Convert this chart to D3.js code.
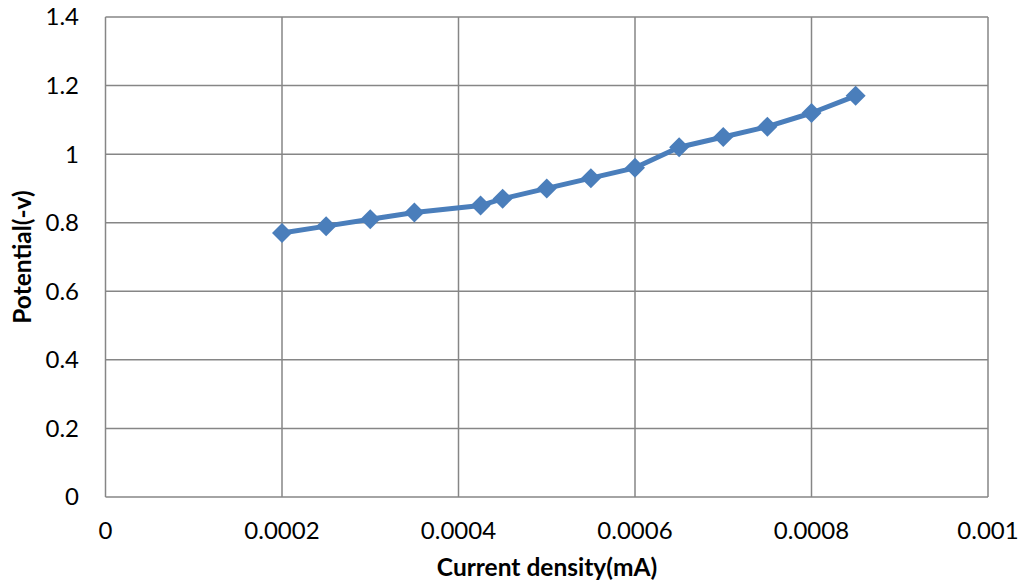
<!DOCTYPE html>
<html><head><meta charset="utf-8">
<script src="https://cdn.jsdelivr.net/npm/d3@7"></script>
<style>body{margin:0;background:#fff}svg{display:block}text{font-family:Lato, "Open Sans", sans-serif;fill:#000}</style>
</head><body>
<svg id="c" width="1023" height="586"></svg>
<script>
const currentDensity = [0.0002,0.00025,0.0003,0.00035,0.000425,0.00045,0.0005,0.00055,0.0006,0.00065,0.0007,0.00075,0.0008,0.00085];
const potential = [0.77,0.79,0.81,0.83,0.85,0.87,0.90,0.93,0.96,1.02,1.05,1.08,1.12,1.17];
const xTicks = [0,0.0002,0.0004,0.0006,0.0008,0.001];
const xTickLabels = ["0","0.0002","0.0004","0.0006","0.0008","0.001"];
const yTicks = [0,0.2,0.4,0.6,0.8,1,1.2,1.4];
const yTickLabels = ["0","0.2","0.4","0.6","0.8","1","1.2","1.4"];

const svg = d3.select("#c");
const L=105.5, R=988, T=17, B=497;
const x = d3.scaleLinear().domain([0,0.001]).range([L,R]);
const y = d3.scaleLinear().domain([0,1.4]).range([B,T]);
const grid="#868686";
svg.append("g").selectAll("line").data(yTicks).join("line")
  .attr("x1",L).attr("x2",R).attr("y1",d=>y(d)).attr("y2",d=>y(d))
  .attr("stroke",grid).attr("stroke-width",1.5);
svg.append("g").selectAll("line").data(xTicks).join("line")
  .attr("y1",T).attr("y2",B).attr("x1",d=>x(d)).attr("x2",d=>x(d))
  .attr("stroke",grid).attr("stroke-width",1.5);
svg.append("g").selectAll("text").data(yTicks).join("text")
  .attr("x",79).attr("y",d=>y(d)).attr("dy","0.35em").attr("text-anchor","end")
  .attr("font-size",24).text((d,i)=>yTickLabels[i]);
svg.append("g").selectAll("text").data(xTicks).join("text")
  .attr("x",d=>x(d)).attr("y",531).attr("dy","0.35em").attr("text-anchor","middle")
  .attr("font-size",24).text((d,i)=>xTickLabels[i]);
svg.append("text").attr("x",547).attr("y",567).attr("dy","0.35em").attr("text-anchor","middle")
  .attr("font-size",24.5).attr("font-weight","bold").text("Current density(mA)");
svg.append("text").attr("transform","translate(22,257) rotate(-90)").attr("dy","0.35em").attr("text-anchor","middle")
  .attr("font-size",24.5).attr("font-weight","bold").text("Potential(-v)");
const col="#4a7ebb";
const pts=currentDensity.map((d,i)=>[d,potential[i]]);
svg.append("path").datum(pts).attr("fill","none").attr("stroke",col).attr("stroke-width",5)
  .attr("stroke-linejoin","round")
  .attr("d",d3.line().x(d=>x(d[0])).y(d=>y(d[1])));
svg.append("g").selectAll("path").data(pts).join("path")
  .attr("d",d3.symbol(d3.symbolSquare,200)())
  .attr("transform",d=>`translate(${x(d[0])},${y(d[1])}) rotate(45)`)
  .attr("fill",col);
</script>
</body></html>
